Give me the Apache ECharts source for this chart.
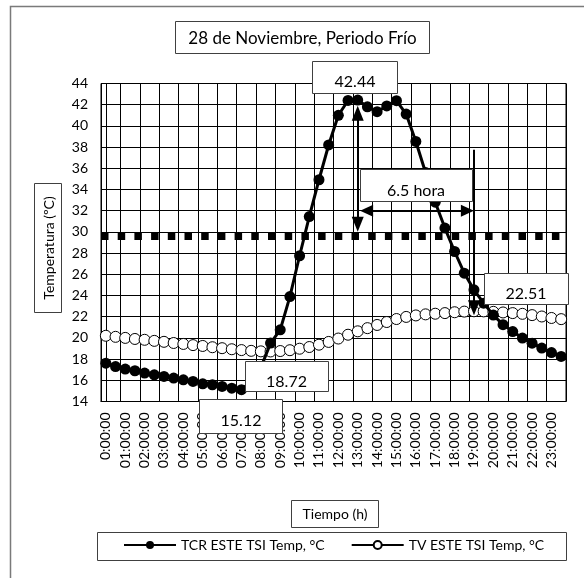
<!DOCTYPE html>
<html>
<head>
<meta charset="utf-8">
<script src="https://cdn.jsdelivr.net/npm/echarts@6/dist/echarts.min.js"></script>
<style>
html,body{margin:0;padding:0;background:#fff;}
#c{width:584px;height:578px;}
</style>
</head>
<body>
<div id="c"></div>
<script>
const categories = ['0:00:00','0:30:00','01:00:00','01:30:00','02:00:00','02:30:00','03:00:00','03:30:00',
  '04:00:00','04:30:00','05:00:00','05:30:00','06:00:00','06:30:00','07:00:00','07:30:00',
  '08:00:00','08:30:00','09:00:00','09:30:00','10:00:00','10:30:00','11:00:00','11:30:00',
  '12:00:00','12:30:00','13:00:00','13:30:00','14:00:00','14:30:00','15:00:00','15:30:00',
  '16:00:00','16:30:00','17:00:00','17:30:00','18:00:00','18:30:00','19:00:00','19:30:00',
  '20:00:00','20:30:00','21:00:00','21:30:00','22:00:00','22:30:00','23:00:00','23:30:00'];

const tcr = [17.62,17.30,17.06,16.90,16.68,16.52,16.36,16.21,16.05,15.89,15.67,15.58,15.42,15.26,15.12,15.90,
  17.20,19.51,20.76,23.90,27.75,31.45,34.92,38.20,41.00,42.40,42.44,41.80,41.34,41.88,42.38,41.12,
  38.53,35.60,32.80,30.36,28.15,26.11,24.54,23.28,22.15,21.25,20.60,19.98,19.50,19.04,18.62,18.25];

const tv = [20.20,20.10,20.00,19.90,19.82,19.72,19.63,19.52,19.43,19.32,19.24,19.12,19.03,18.93,18.85,18.78,
  18.73,18.72,18.76,18.84,18.98,19.14,19.36,19.62,19.94,20.30,20.62,20.92,21.22,21.50,21.78,21.98,
  22.12,22.22,22.28,22.34,22.42,22.48,22.51,22.50,22.46,22.40,22.34,22.27,22.15,22.02,21.88,21.77];

const yTicks = {min: 14, max: 44, interval: 2};
const thresholdLine = 29.6;
const seriesNames = ['TCR ESTE TSI Temp, °C', 'TV ESTE TSI Temp, °C'];
const titleText = '28 de Noviembre, Periodo Frío';
const yTitle = 'Temperatura (ºC)';
const xTitle = 'Tiempo (h)';
const durationText = '6.5 hora';
// annotation anchors in hours (value axis aligned with hourly labels)
const arrowHour = 13;
const lineHour = 19;
const arrowY = 32;

const FONT = 'Lato';
const chart = echarts.init(document.getElementById('c'), null, {renderer: 'canvas'});

const maxT = Math.max(...tcr).toFixed(2);
const minT = Math.min(...tcr).toFixed(2);
const minV = Math.min(...tv).toFixed(2);
const tvAt19 = tv[categories.indexOf('19:00:00')].toFixed(2);

function box(x, y, w, h, text, tx, ty, opts) {
  opts = opts || {};
  return [
    {type: 'rect', z: 100, shape: {x: x, y: y, width: w, height: h},
     style: {fill: '#fff', stroke: opts.stroke || '#404040', lineWidth: 1}},
    {type: 'text', z: 101, x: tx, y: ty, rotation: opts.rotation || 0,
     style: {text: text, fill: '#000', font: (opts.size || 16) + 'px ' + FONT,
             align: 'center', verticalAlign: 'middle'}}
  ];
}

const graphics = [].concat(
  [{type: 'polyline', z: 0, shape: {points: [[10.5, 578], [10.5, 6.5], [584, 6.5]]},
    style: {stroke: '#7a7a7a', lineWidth: 1.5, fill: null}}],
  box(175.5, 21.5, 254, 32, titleText, 302.5, 38.5, {size: 17}),
  box(34.5, 183.5, 27, 129, yTitle, 49, 248, {rotation: Math.PI / 2, size: 14}),
  box(291.5, 500.5, 87, 27, xTitle, 335, 514.5, {size: 14}),
  box(312.5, 61.5, 85, 32, maxT, 355, 81.5),
  box(360.5, 169.5, 112, 32, durationText, 416, 190.5),
  box(245.5, 361.5, 83, 30, minV, 286.5, 381.5),
  box(199.5, 399.5, 83, 34, minT, 241, 420.5),
  box(484.5, 273.5, 84, 31, tvAt19, 526, 294),
  [{type: 'rect', z: 99, shape: {x: 97.5, y: 532.5, width: 469, height: 28},
    style: {fill: '#fff', stroke: '#404040', lineWidth: 1}}]
);

const option = {
  animation: false,
  backgroundColor: '#fff',
  textStyle: {fontFamily: FONT},
  grid: {left: 101, right: 18, top: 83.5, height: 318, show: true,
         borderColor: '#000', borderWidth: 1, backgroundColor: 'transparent'},
  legend: {
    data: seriesNames, left: 123, top: 538, padding: 0, itemGap: 26,
    itemWidth: 52, itemHeight: 10, z: 120,
    textStyle: {fontFamily: FONT, fontSize: 14, color: '#000'}
  },
  xAxis: [{
    type: 'category', data: categories, boundaryGap: true,
    axisLine: {lineStyle: {color: '#000', width: 1}},
    axisTick: {show: false},
    axisLabel: {interval: 1, rotate: 90, margin: 11, color: '#000', fontSize: 14, fontFamily: FONT},
    splitLine: {show: true, interval: 1, lineStyle: {color: '#000', width: 1}}
  }, {
    type: 'value', min: -0.25, max: 23.75, show: false,
    splitLine: {show: false}
  }],
  yAxis: {
    type: 'value', min: yTicks.min, max: yTicks.max, interval: yTicks.interval,
    axisLine: {show: true, lineStyle: {color: '#000', width: 1}},
    axisTick: {show: true, inside: false, length: 4, lineStyle: {color: '#000'}},
    axisLabel: {margin: 13, color: '#000', fontSize: 14, fontFamily: FONT},
    splitLine: {show: true, lineStyle: {color: '#000', width: 1}}
  },
  series: [
    {
      name: seriesNames[0], type: 'line', data: tcr, z: 4,
      symbol: 'circle', symbolSize: 11, showAllSymbol: true,
      lineStyle: {color: '#000', width: 3},
      itemStyle: {color: '#000', borderColor: '#000', borderWidth: 0}
    },
    {
      name: seriesNames[1], type: 'line', data: tv, z: 3,
      symbol: 'circle', symbolSize: 11, showAllSymbol: true,
      lineStyle: {color: '#000', width: 3},
      itemStyle: {color: '#fff', borderColor: '#000', borderWidth: 1},
      markLine: {
        silent: true, symbol: 'none', animation: false,
        label: {show: false},
        lineStyle: {color: '#000', width: 7, type: [7.5, 9.2]},
        data: [{yAxis: thresholdLine}]
      }
    },
    {
      name: 'annotations', type: 'line', xAxisIndex: 1, data: [], silent: true,
      markLine: {
        silent: true, animation: false, label: {show: false},
        symbolSize: [12, 15],
        lineStyle: {color: '#000', width: 2, type: 'solid'},
        data: [
          [{coord: [arrowHour, 41.19], symbol: 'triangle'}, {coord: [arrowHour, 30.72], symbol: 'triangle'}],
          [{coord: [13.46, arrowY], symbol: 'triangle', symbolSize: [12, 13]}, {coord: [18.66, arrowY], symbol: 'triangle', symbolSize: [12, 13]}],
          [{coord: [lineHour, 37.75], symbol: 'none'}, {coord: [lineHour, 22.84], symbol: 'triangle'}]
        ]
      }
    }
  ],
  graphic: graphics
};
chart.setOption(option);
</script>
</body>
</html>
